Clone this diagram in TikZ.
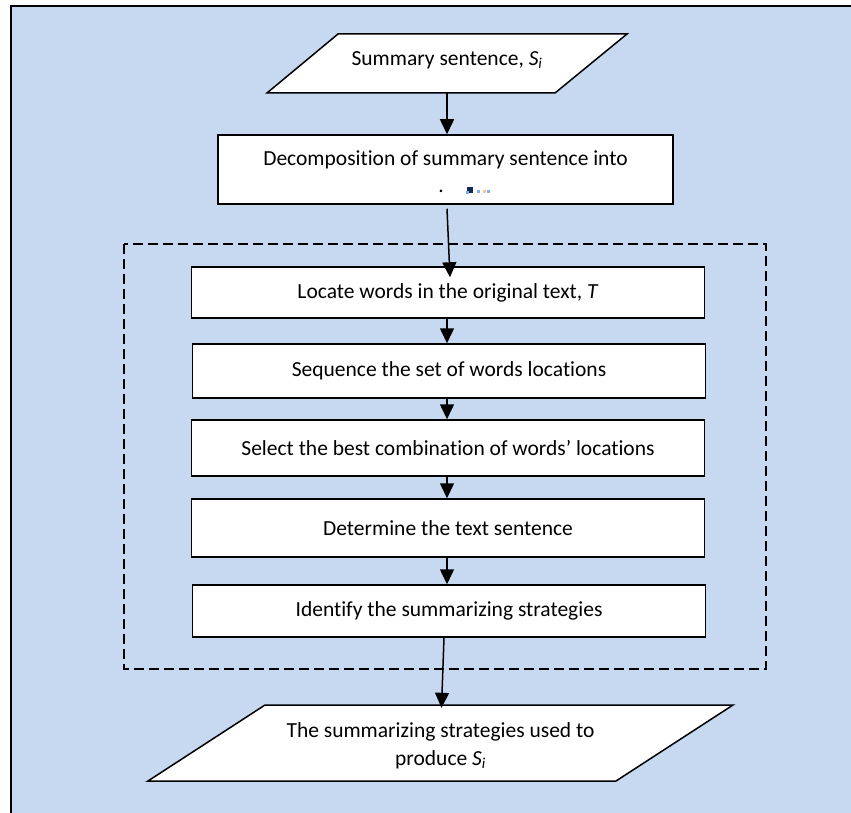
\documentclass[tikz,border=0pt]{standalone}
\usepackage{fontspec}
\setmainfont{Carlito}[Ligatures=NoCommon]
\usetikzlibrary{arrows.meta,calc}
\definecolor{bgblue}{RGB}{198,217,241}
\definecolor{artblue}{RGB}{120,180,235}
\definecolor{artpeach}{RGB}{245,200,150}
\definecolor{artdark}{RGB}{20,40,90}
\begin{document}
\begin{tikzpicture}[x=1pt,y=-1pt,
  lbl/.style={inner sep=0pt, align=center, font=\fontsize{21.5}{28}\selectfont},
  procbox/.style={draw, line width=1.5pt, fill=white, inner sep=0pt, minimum width=513pt, font=\fontsize{21.5}{28}\selectfont},
  iobox/.style={draw, line width=1.5pt, fill=white, line join=miter},
  flow/.style={line width=1.5pt, -{Triangle[width=14pt,length=15pt]}},
  group/.style={draw, line width=1.5pt, dash pattern=on 10pt off 5pt}
]
\useasboundingbox (0,0) rectangle (851,813);
\clip (0,0) rectangle (851,813);
\draw[line width=2.2pt, fill=bgblue] (11,6) rectangle (900,900);

% input parallelogram
\draw[iobox] (267,93) -- (338,34) -- (627,34) -- (555,93) -- cycle;
\node[lbl, minimum width=288pt, minimum height=59pt] (in) at (447,63.5) {};
\node[lbl] (intxt) at (447,60) {Summary sentence, \textit{S}\textsubscript{\textit{i}}};

% decomposition box
\node[procbox, minimum width=455pt, minimum height=69pt] (dec) at (445.5,169.5) {};
\node[lbl] (dectxt) at (445.5,160) {Decomposition of summary sentence into};
\node[lbl, anchor=base] (decdot) at (441,193) {.};
\fill[artdark] (467,187) rectangle (473,193);
\fill[artblue] (466,191) rectangle (469,194);
\fill[artblue] (477,190) rectangle (480,193);
\fill[artpeach] (483,190) rectangle (486,193);
\fill[artblue] (487,190) rectangle (490,193);

% dashed group
\draw[group] (124,244) rectangle (766,669);

% process boxes
\node[procbox, minimum height=51pt] (loc) at (448,292.5) {Locate words in the original text, \textit{T}};
\node[procbox, minimum height=54pt] (seq) at (449,371) {Sequence the set of words locations};
\node[procbox, minimum height=56pt] (sel) at (448,448) {Select the best combination of words’ locations};
\node[procbox, minimum height=58pt] (det) at (448,528) {Determine the text sentence};
\node[procbox, minimum height=52pt] (ide) at (449,611) {Identify the summarizing strategies};

% output parallelogram
\draw[iobox] (148,781) -- (265,705) -- (733,705) -- (616,781) -- cycle;
\node[lbl, minimum width=351pt, minimum height=76pt] (out) at (440.5,746) {The summarizing strategies used to\\produce \textit{S}\textsubscript{\textit{i}}};

% connectors
\draw[flow] (in.south) -- (in.south |- dec.north);
\draw[flow] ([xshift=1.5pt,yshift=-4pt]dec.south) -- ([xshift=2pt,yshift=-11pt]loc.north);
\draw[flow] ([xshift=-1pt]loc.south) -- ([xshift=-2pt]seq.north);
\draw[flow] ([xshift=-2pt]seq.south) -- ([xshift=-1pt]sel.north);
\draw[flow] ([xshift=-1pt]sel.south) -- ([xshift=-1pt]det.north);
\draw[flow] ([xshift=-1pt]det.south) -- ([xshift=-2pt]ide.north);
\draw[flow] ([xshift=-5pt]ide.south) -- ([xshift=1pt]out.north);
\end{tikzpicture}
\end{document}
